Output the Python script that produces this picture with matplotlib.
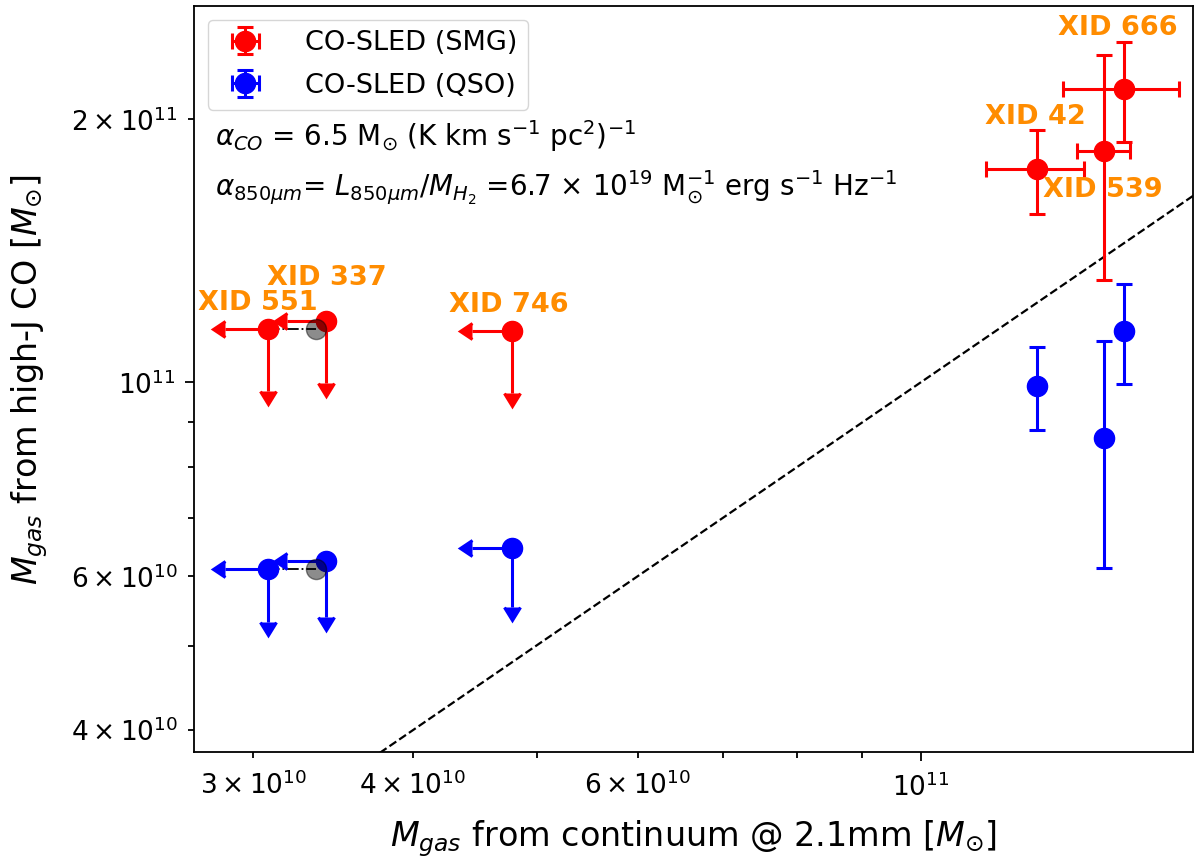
import numpy as np
import matplotlib.pyplot as plt

# sources with upper limits (XID 551, XID 337, XID 746)
lim_names = ['XID 551', 'XID 337', 'XID 746']
lim_cont = [3.08e10, 3.42e10, 4.78e10]
lim_cont_err = [2.3e9, 2.3e9, 3.3e9]
lim_smg = [1.150e11, 1.176e11, 1.145e11]
lim_smg_err = [1.72e10, 1.78e10, 1.72e10]
lim_qso = [6.12e10, 6.25e10, 6.46e10]
lim_qso_err = [0.80e10, 0.86e10, 0.92e10]

# detected sources (XID 42, XID 539, XID 666)
det_names = ['XID 42', 'XID 539', 'XID 666']
det_cont = [1.234e11, 1.392e11, 1.443e11]
det_cont_err = [1.08e10, 6.7e9, 1.5e10]
det_smg = [1.753e11, 1.840e11, 2.167e11]
det_smg_err = [1.93e10, 5.3e10, 2.85e10]
det_qso = [0.991e11, 0.864e11, 1.145e11]
det_qso_err = [1.08e10, 2.5e10, 1.5e10]

# alternative position of XID 551 (grey)
alt_cont = 3.36e10

# label offsets in pixels (left edge, vertical centre) relative to red point
lab_dx = [-70, -59, -63, -52, -61, -66]
lab_dy = [26, 43, 26, 52, -39, 61]

fig = plt.figure(figsize=(12, 8.65), dpi=100)
ax = fig.add_axes([0.1617, 0.1301, 0.8325, 0.8629])
ax.set_xscale('log')
ax.set_yscale('log')

eb = dict(fmt='o', ms=14.5, elinewidth=2.2, capsize=6, capthick=2.2)

# detections
ax.errorbar(det_cont, det_smg, xerr=det_cont_err, yerr=det_smg_err, color='red',
            label='CO-SLED (SMG)', zorder=3, **eb)
ax.errorbar(det_cont, det_qso, xerr=np.zeros(3), yerr=det_qso_err, color='blue',
            label='CO-SLED (QSO)', zorder=3, **eb)

# limits
ax.errorbar(lim_cont, lim_smg, xerr=lim_cont_err, yerr=lim_smg_err, color='red',
            xuplims=True, uplims=True, zorder=3, **eb)
ax.errorbar(lim_cont, lim_qso, xerr=lim_cont_err, yerr=lim_qso_err, color='blue',
            xuplims=True, uplims=True, zorder=3, **eb)

# grey alternative points with dash-dot link
for yy in [lim_smg[0], lim_qso[0]]:
    ax.plot([lim_cont[0], alt_cont], [yy, yy], color='black', ls='-.', lw=1.3, zorder=2)
    ax.plot(alt_cont, yy, 'o', ms=14.5, color='black', mec='black', alpha=0.45, zorder=4)

# one-to-one line
one = np.array([1e10, 1e12])
ax.plot(one, one, 'k--', lw=1.6, zorder=1)

allx = lim_cont + det_cont
ally = lim_smg + det_smg
for i, name in enumerate(lim_names + det_names):
    ax.annotate(name, (allx[i], ally[i]), xytext=(lab_dx[i], lab_dy[i]),
                textcoords='offset pixels', ha='left', va='center',
                color='darkorange', fontsize=19.5, fontweight='bold', zorder=5)

ax.set_xlim(2.695e10, 1.635e11)
ax.set_ylim(3.772e10, 2.696e11)

ax.tick_params(which='both', labelsize=19, width=1.3, pad=7)
ax.tick_params(axis='x', which='both', pad=9)
ax.tick_params(which='major', length=6.5)
ax.tick_params(which='minor', length=4.5)
for s in ax.spines.values():
    s.set_linewidth(1.3)

ax.text(0.021, 0.826, r'$\alpha_{CO}$ = 6.5 M$_{\odot}$ (K km s$^{-1}$ pc$^{2}$)$^{-1}$',
        transform=ax.transAxes, fontsize=20, va='center')
ax.text(0.021, 0.756, r'$\alpha_{850\mu m}$= $L_{850\mu m}/M_{H_2}$ =6.7 $\times$ 10$^{19}$ '
        r'M$_{\odot}^{-1}$ erg s$^{-1}$ Hz$^{-1}$',
        transform=ax.transAxes, fontsize=20, va='center')

ax.legend(loc='upper left', fontsize=19.5, borderaxespad=0.5, labelspacing=0.6,
          handletextpad=1.2)

ax.set_xlabel(r'$M_{gas}$ from continuum @ 2.1mm [$M_{\odot}$]', fontsize=24, labelpad=11)
ax.set_ylabel(r'$M_{gas}$ from high-J CO [$M_{\odot}$]', fontsize=24, labelpad=15)

fig.savefig('out.png', dpi=100)
